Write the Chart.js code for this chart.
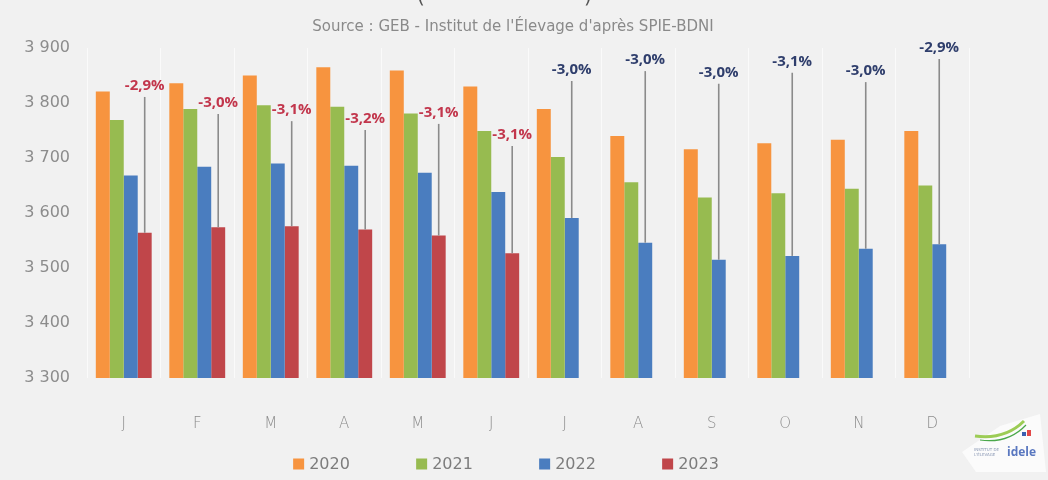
<!DOCTYPE html>
<html>
<head>
<meta charset="utf-8">
<script src="https://cdn.jsdelivr.net/npm/chart.js@4.4.0/dist/chart.umd.min.js"></script>
<style>
  html, body { margin: 0; padding: 0; background: #f1f1f1; }
  #wrap { width: 1048px; height: 480px; }
</style>
</head>
<body>
<div id="wrap"><canvas id="c" width="1048" height="480"></canvas></div>
<script>
// ---- data ----
const categories = ['J', 'F', 'M', 'A', 'M', 'J', 'J', 'A', 'S', 'O', 'N', 'D'];
const seriesNames = ['2020', '2021', '2022', '2023'];
const values2020 = [3821, 3836, 3850, 3865, 3859, 3830, 3789, 3740, 3716, 3727, 3733, 3749];
const values2021 = [3769, 3789, 3796, 3793, 3781, 3749, 3702, 3656, 3628, 3636, 3644, 3650];
const values2022 = [3668, 3684, 3690, 3686, 3673, 3638, 3591, 3546, 3515, 3522, 3535, 3543];
const values2023 = [3564, 3574, 3576, 3570, 3559, 3527, null, null, null, null, null, null];
const changeLabels = ['-2,9%', '-3,0%', '-3,1%', '-3,2%', '-3,1%', '-3,1%', '-3,0%', '-3,0%', '-3,0%', '-3,1%', '-3,0%', '-2,9%'];
const changeLabelLevels = [3831, 3800, 3787, 3771, 3782, 3742, 3860, 3878, 3855, 3875, 3858, 3900];
const yMin = 3300, yMax = 3900, yStep = 100;
const sourceText = "Source : GEB - Institut de l'Élevage d'après SPIE-BDNI";

const colors = ['#f7943f', '#97bb50', '#4a7dbf', '#c0464a'];
const BG = '#f1f1f1';

const bgPlugin = {
  id: 'bg',
  beforeDraw(chart) {
    const ctx = chart.ctx;
    ctx.save();
    ctx.fillStyle = BG;
    ctx.fillRect(0, 0, chart.width, chart.height);
    ctx.restore();
  }
};

const annotPlugin = {
  id: 'annot',
  afterDatasetsDraw(chart) {
    const ctx = chart.ctx;
    const y = chart.scales.y;
    ctx.save();
    for (let j = 0; j < categories.length; j++) {
      const dsIndex = values2023[j] != null ? 3 : 2;
      const bar = chart.getDatasetMeta(dsIndex).data[j];
      if (!bar) continue;
      const x = bar.x;
      const top = bar.y;
      const ly = y.getPixelForValue(changeLabelLevels[j]);
      ctx.strokeStyle = '#8b8b8b';
      ctx.lineWidth = 1.6;
      ctx.beginPath();
      ctx.moveTo(x, ly + 11);
      ctx.lineTo(x, top);
      ctx.stroke();
      ctx.font = 'bold 15px "Open Sans", sans-serif';
      ctx.textAlign = 'center';
      ctx.textBaseline = 'middle';
      ctx.fillStyle = dsIndex === 3 ? '#c2364c' : '#2f3e6c';
      ctx.fillText(changeLabels[j], x, ly);
    }
    ctx.restore();
  },
  afterDraw(chart) {
    const ctx = chart.ctx;
    ctx.save();
    // source subtitle
    ctx.font = '15px "DejaVu Sans", sans-serif';
    ctx.fillStyle = '#8a8a8a';
    ctx.textAlign = 'center';
    ctx.textBaseline = 'middle';
    const tw = ctx.measureText(sourceText).width;
    const target = 482;
    ctx.save();
    ctx.translate(513, 27);
    ctx.scale(Math.min(1, target / tw), 1);
    ctx.fillText(sourceText, 0, 0);
    ctx.restore();
    // cut-off line at the very top (only the parentheses' tails show)
    ctx.font = '20px "DejaVu Sans", sans-serif';
    ctx.fillStyle = '#555';
    ctx.textBaseline = 'alphabetic';
    ctx.fillText('(', 421, 3);
    ctx.fillText(')', 588, 3);

    // legend
    ctx.font = '16px "DejaVu Sans", sans-serif';
    ctx.textAlign = 'left';
    ctx.textBaseline = 'middle';
    const stride = 123, box = 11, gap = 5;
    const legendY = 464;
    const textW = seriesNames.map(n => ctx.measureText(n).width);
    const totalW = stride * (seriesNames.length - 1) + box + gap + textW[textW.length - 1];
    let lx = 506 - totalW / 2;
    chart.data.datasets.forEach((ds, i) => {
      ctx.fillStyle = ds.backgroundColor;
      ctx.fillRect(lx, legendY - box / 2, box, box);
      ctx.fillStyle = '#7d7d7d';
      ctx.fillText(ds.label, lx + box + gap, legendY + 1);
      lx += stride;
    });

    // logo (institut de l'élevage - idele)
    ctx.fillStyle = '#fbfbfb';
    ctx.beginPath();
    ctx.moveTo(962, 452);
    ctx.lineTo(1000, 426);
    ctx.lineTo(1040, 414);
    ctx.lineTo(1046, 472);
    ctx.lineTo(976, 472);
    ctx.closePath();
    ctx.fill();
    ctx.strokeStyle = '#9ccc55';
    ctx.lineWidth = 3;
    ctx.beginPath();
    ctx.moveTo(975, 436);
    ctx.quadraticCurveTo(1005, 440, 1024, 421);
    ctx.stroke();
    ctx.strokeStyle = '#4aa84a';
    ctx.lineWidth = 1.2;
    ctx.beginPath();
    ctx.moveTo(980, 440);
    ctx.quadraticCurveTo(1008, 444, 1026, 425);
    ctx.stroke();
    ctx.fillStyle = '#e24848';
    ctx.fillRect(1027, 430, 4, 6);
    ctx.fillStyle = '#3b5fb0';
    ctx.fillRect(1022, 432, 4, 4);
    ctx.font = 'bold 12px "Open Sans", sans-serif';
    ctx.fillStyle = '#5a78c0';
    ctx.fillText('idele', 1007, 453);
    ctx.font = '4px "DejaVu Sans", sans-serif';
    ctx.fillStyle = '#8a98b4';
    ctx.fillText('INSTITUT DE', 974, 450);
    ctx.fillText("L'ÉLEVAGE", 974, 455);
    ctx.restore();
  }
};

const chart = new Chart(document.getElementById('c'), {
  type: 'bar',
  data: {
    labels: categories,
    datasets: [
      { label: seriesNames[0], data: values2020, backgroundColor: colors[0] },
      { label: seriesNames[1], data: values2021, backgroundColor: colors[1] },
      { label: seriesNames[2], data: values2022, backgroundColor: colors[2] },
      { label: seriesNames[3], data: values2023, backgroundColor: colors[3] }
    ]
  },
  options: {
    responsive: false,
    animation: false,
    devicePixelRatio: 1,
    layout: { padding: { left: 0, right: 79, top: 48, bottom: 0 } },
    datasets: { bar: { categoryPercentage: 0.76, barPercentage: 1.0, borderWidth: 0 } },
    plugins: {
      legend: { display: false },
      title: { display: false },
      tooltip: { enabled: false }
    },
    scales: {
      x: {
        grid: { display: true, offset: true, color: '#fafafa', lineWidth: 1, drawTicks: false },
        border: { display: false },
        ticks: { color: '#8c8c8c', font: { family: '"DejaVu Sans", sans-serif', size: 15, weight: '300' }, padding: 37 },
        afterFit(scale) { scale.height = 102; }
      },
      y: {
        min: yMin, max: yMax,
        grid: { display: false, drawTicks: false },
        border: { display: false },
        ticks: {
          stepSize: yStep,
          color: '#8c8c8c',
          font: { family: '"DejaVu Sans", sans-serif', size: 16 },
          padding: 17,
          callback: v => String(v).replace(/\B(?=(\d{3})+(?!\d))/g, ' ')
        },
        afterFit(scale) { scale.width = 87; }
      }
    }
  },
  plugins: [bgPlugin, annotPlugin]
});
</script>
</body>
</html>
